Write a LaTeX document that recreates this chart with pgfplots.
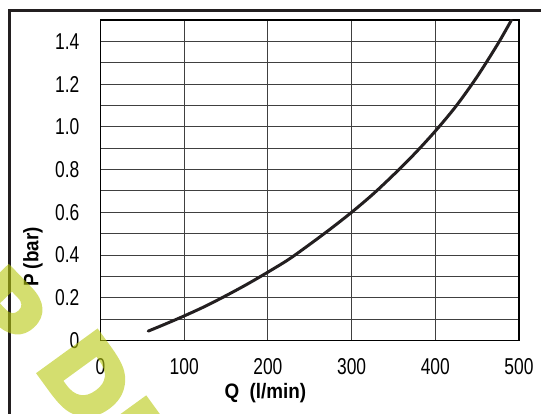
\documentclass[border=0pt]{standalone}
\usepackage{fontspec}
\setmainfont{Liberation Sans}
\newfontfamily\tickfont{Liberation Sans}[FakeStretch=0.76]
\newfontfamily\labfont{Liberation Sans}[FakeStretch=0.9]
\newfontfamily\wmfont{DejaVu Sans Bold}[FakeBold=3.5]
\usepackage{pgfplots}
\pgfplotsset{compat=1.18}
\definecolor{wm}{RGB}{183,200,15}
\definecolor{ink}{RGB}{35,31,32}
\begin{document}
\begin{tikzpicture}
\useasboundingbox (0,0) rectangle (541bp,414bp);
\draw[ink, line width=2.7bp] (9.7bp,0) -- (9.7bp,403.7bp) -- (541bp,403.7bp);
\begin{axis}[
  at={(100.5bp,73.5bp)}, anchor=south west,
  scale only axis, width=418.5bp, height=320.5bp,
  xmin=0, xmax=500, ymin=0, ymax=1.5,
  xtick={0,100,200,300,400,500},
  xticklabels={0,100,200,300,400,500},
  ytick={0,0.2,0.4,0.6,0.8,1.0,1.2,1.4},
  yticklabels={0,0.2,0.4,0.6,0.8,1.0,1.2,1.4},
  minor ytick={0.1,0.3,0.5,0.7,0.9,1.1,1.3},
  grid=both,
  major grid style={black!75, line width=0.9bp},
  minor grid style={black!75, line width=0.9bp},
  major tick length=0pt, minor tick length=0pt,
  axis line style={black, line width=1.4bp},
  ticklabel style={font=\tickfont\fontsize{23}{23}\selectfont, inner sep=0pt},
  xticklabel style={anchor=north, yshift=-17.5bp},
  yticklabel style={anchor=east, xshift=-21bp},
  xlabel={\textbf{Q\ \ (l/min)}},
  ylabel={\textbf{P (bar)}},
  xlabel style={font=\labfont\fontsize{21}{21}\selectfont, at={(axis description cs:0.394,0)}, anchor=north, yshift=-43bp, inner sep=0pt},
  ylabel style={font=\labfont\fontsize{21}{21}\selectfont, at={(axis description cs:-0.1613,0.26)}, anchor=center, inner sep=0pt},
]
\addplot[ink, line width=3bp, smooth, line cap=round] coordinates {
(57,0.044) (75,0.073) (100,0.115) (125,0.16) (150,0.21) (175,0.263) (200,0.32)
(225,0.38) (250,0.45) (275,0.523) (300,0.60) (325,0.683) (350,0.775) (375,0.873)
(400,0.98) (425,1.098) (450,1.235) (475,1.39) (491,1.5)
};
\end{axis}
\begin{scope}
\clip (0,0) rectangle (541bp,414bp);
\begin{scope}[transparency group, opacity=0.6]
\begin{scope}[every node/.style={anchor=base west, text=wm, font=\wmfont\fontsize{100}{100}\selectfont, inner sep=0pt}]
\node[rotate=-46] at (-50bp,104bp) {P};
\node[rotate=-54] at (33bp,48bp) {DF};
\end{scope}
\end{scope}
\end{scope}
\end{tikzpicture}
\end{document}
